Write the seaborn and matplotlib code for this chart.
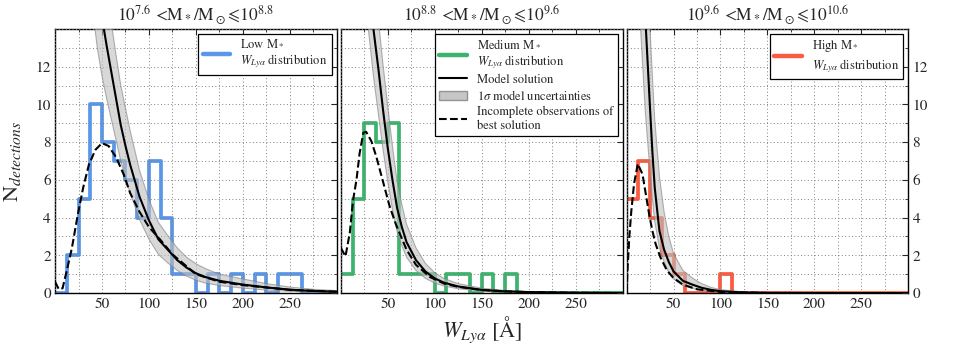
import numpy as np
import pandas as pd
import matplotlib.pyplot as plt
import seaborn as sns
from matplotlib.lines import Line2D
from matplotlib.patches import Patch
from matplotlib.ticker import MultipleLocator

sns.set_style("white")
plt.rcParams['font.family'] = 'serif'
plt.rcParams['font.serif'] = ['STIXGeneral', 'Liberation Serif', 'DejaVu Serif']
plt.rcParams['mathtext.fontset'] = 'stix'

# histogram bins (12.5 A wide, 0-300 A)
bin_edges = list(np.arange(0, 300.1, 12.5))
bin_centres = [e + 6.25 for e in bin_edges[:-1]]

# detections per bin
low_counts = [0, 2, 5, 10, 8, 7, 6, 4, 7, 4, 1, 1, 0, 1, 0, 1, 0, 1, 0, 1, 1, 0, 0, 0]
med_counts = [1, 5, 9, 8, 9, 1, 1, 1, 0, 1, 1, 0, 1, 0, 1, 0, 0, 0, 0, 0, 0, 0, 0, 0]
high_counts = [5, 7, 4, 2, 1, 0, 0, 0, 1, 0, 0, 0, 0, 0, 0, 0, 0, 0, 0, 0, 0, 0, 0, 0]

# model solution and 1 sigma band
low_w = [40, 45, 50, 55, 60, 65, 70, 75, 80, 90, 100, 110, 120, 130, 140, 150, 160, 175, 200, 225, 250, 275, 300]
low_model = [18.5, 16.5, 14.6, 13.1, 11.7, 10.3, 8.9, 7.8, 6.8, 5.1, 3.85, 2.85, 2.3, 1.75, 1.35, 1.05,
             0.85, 0.65, 0.45, 0.3, 0.18, 0.11, 0.07]
low_upper = [23, 20.5, 17.8, 16, 14.3, 12.6, 11, 9.8, 8.6, 6.5, 4.95, 3.75, 3.05, 2.4, 1.9, 1.55,
             1.3, 1.0, 0.75, 0.5, 0.32, 0.2, 0.13]
low_lower = [15, 13, 11.5, 10.3, 9.2, 8.1, 7.0, 6.1, 5.3, 3.9, 2.85, 2.05, 1.6, 1.2, 0.9, 0.68,
             0.53, 0.4, 0.26, 0.16, 0.09, 0.05, 0.03]
low_inc_w = [0, 4, 8, 13, 18, 24, 30, 36, 43, 50, 57, 65, 73, 80, 90, 100, 112.5, 125, 150, 175, 200, 250, 300]
low_inc = [0.6, 0.2, 0.25, 1.3, 2.4, 4.1, 5.6, 6.8, 7.6, 7.95, 7.8, 7.2, 6.3, 5.3, 4.3, 3.5, 2.8, 2.05,
           1.0, 0.6, 0.42, 0.17, 0.07]

med_w = [25, 30, 35, 40, 45, 50, 55, 60, 65, 70, 80, 90, 100, 110, 125, 150, 175, 200, 250, 300]
med_model = [19, 16.3, 13.9, 11.9, 9.7, 7.7, 6.0, 4.5, 3.5, 2.7, 1.75, 1.15, 0.78, 0.55, 0.35, 0.17,
             0.09, 0.05, 0.015, 0.005]
med_upper = [22.4, 19.2, 16.7, 14.5, 12.1, 9.9, 7.8, 5.9, 4.7, 3.65, 2.4, 1.58, 1.08, 0.77, 0.5, 0.26,
             0.14, 0.085, 0.03, 0.01]
med_lower = [16.2, 13.7, 11.4, 9.5, 7.6, 5.9, 4.45, 3.25, 2.5, 1.9, 1.2, 0.78, 0.53, 0.37, 0.23, 0.105,
             0.054, 0.028, 0.008, 0.002]
med_inc_w = [0, 5, 9.6, 13, 16.7, 20, 24, 27, 32.6, 38, 45, 52, 59, 70, 80, 95, 110, 125, 150, 175, 200, 250, 300]
med_inc = [2.4, 1.95, 3.2, 4.9, 6.0, 7.4, 8.5, 8.55, 8.05, 7.2, 5.9, 4.6, 3.6, 2.3, 1.5, 0.85, 0.5, 0.33,
           0.16, 0.09, 0.05, 0.015, 0.005]

high_w = [10, 15, 20, 22.5, 25, 27.5, 30, 35, 40, 45, 50, 60, 70, 80, 90, 100, 125, 150, 200, 300]
high_model = [32, 22, 14.6, 12.2, 9.8, 7.5, 5.6, 3.3, 2.3, 1.65, 1.15, 0.65, 0.45, 0.28, 0.17, 0.1,
              0.03, 0.01, 0.001, 0]
high_upper = [42, 29, 19.5, 16.5, 14, 11.5, 9.2, 6.2, 4.3, 3.0, 2.1, 1.2, 0.8, 0.5, 0.3, 0.18,
              0.06, 0.02, 0.003, 0]
high_lower = [20, 14, 9.6, 8, 6.5, 5.0, 3.8, 2.4, 1.65, 1.1, 0.75, 0.4, 0.25, 0.15, 0.09, 0.05,
              0.015, 0.004, 0, 0]
high_inc_w = [0, 1, 3, 5, 8, 12, 17, 20, 24, 27.5, 31, 36, 43, 50, 60, 75, 100, 150, 300]
high_inc = [0, 1.2, 3.0, 4.3, 5.8, 6.85, 6.3, 5.4, 4.2, 3.3, 2.6, 1.9, 1.2, 0.8, 0.45, 0.2, 0.06, 0.005, 0]

titles = [r'$10^{7.6}$ <M$_*$/M$_\odot\!\leqslant\!10^{8.8}$',
          r'$10^{8.8}$ <M$_*$/M$_\odot\!\leqslant\!10^{9.6}$',
          r'$10^{9.6}$ <M$_*$/M$_\odot\!\leqslant\!10^{10.6}$']
hist_labels = ['Low M$_*$\n$W_{Ly\\alpha}$ distribution',
               'Medium M$_*$\n$W_{Ly\\alpha}$ distribution',
               'High M$_*$\n$W_{Ly\\alpha}$ distribution']
colours = ['#5b97e8', '#3cb46e', '#fb5b3f']

panels = [
    (low_counts, low_w, low_model, low_upper, low_lower, low_inc_w, low_inc),
    (med_counts, med_w, med_model, med_upper, med_lower, med_inc_w, med_inc),
    (high_counts, high_w, high_model, high_upper, high_lower, high_inc_w, high_inc),
]

fig, axes = plt.subplots(1, 3, figsize=(9.69, 3.46), dpi=100, sharey=True)
fig.subplots_adjust(left=0.0568, right=0.9374, bottom=0.153, top=0.916, wspace=0.014)

for i, ax in enumerate(axes):
    counts, w, model, upper, lower, inc_w, inc = panels[i]
    hist_df = pd.DataFrame({'W': bin_centres, 'n': counts})
    sns.histplot(data=hist_df, x='W', weights='n', bins=bin_edges, element='step', fill=False,
                 color=colours[i], lw=2.7, ax=ax, zorder=1.5)
    ax.fill_between(w, lower, upper, facecolor='0.75', edgecolor='0.5', lw=0.8, alpha=0.6, zorder=2.6)
    sns.lineplot(x=w, y=model, color='k', lw=1.5, ax=ax, zorder=4)
    sns.lineplot(x=inc_w, y=inc, color='k', lw=1.5, ls='--', ax=ax, zorder=4)

    ax.set_xlim(0, 300)
    ax.set_ylim(0, 14)
    ax.set_xticks([50, 100, 150, 200, 250])
    ax.xaxis.set_minor_locator(MultipleLocator(25))
    ax.set_yticks([0, 2, 4, 6, 8, 10, 12])
    ax.yaxis.set_minor_locator(MultipleLocator(1))
    ax.set_axisbelow(False)
    ax.grid(which='both', ls=(0, (1, 2.5)), color='0.5', lw=0.7)
    ax.tick_params(which='both', direction='in', top=True, right=True, labelsize=11, pad=3)
    ax.tick_params(which='major', length=4)
    ax.tick_params(which='minor', length=2)
    for s in ax.spines.values():
        s.set_color('k')
        s.set_linewidth(1.0)
    ax.set_ylabel('')
    ax.set_xlabel('')
    ax.set_title(titles[i], fontsize=12.5, pad=6)

    hist_handle = Line2D([], [], color=colours[i], lw=3.2)
    if i == 1:
        handles = [hist_handle,
                   Line2D([], [], color='k', lw=1.5),
                   Patch(facecolor='0.72', edgecolor='0.5', alpha=0.8),
                   Line2D([], [], color='k', lw=1.5, ls='--')]
        labels = [hist_labels[i], 'Model solution', r'1$\sigma$ model uncertainties',
                  'Incomplete observations of\nbest solution']
    else:
        handles = [hist_handle]
        labels = [hist_labels[i]]
    leg = ax.legend(handles, labels, loc='upper right', fontsize=9, fancybox=False,
                    framealpha=1, edgecolor='k', handlelength=2.2, borderaxespad=0.4,
                    labelspacing=0.25, borderpad=0.35)
    leg.get_frame().set_linewidth(0.9)

axes[0].set_ylabel(r'N$_{detections}$', fontsize=16)
axes[0].yaxis.set_label_coords(-0.115, 0.5)
axes[1].tick_params(labelleft=False)
axes[2].tick_params(labelleft=False, labelright=True)
axes[1].set_xlabel(r'$W_{Ly\alpha}$ [Å]', fontsize=16, labelpad=3)
axes[2].yaxis.set_label_position('right')
axes[2].set_ylabel(r'$p$(W$_{Ly\alpha}$|A,W$_0$)$dW_{Ly\alpha}\times$N$_{galaxies}$',
                   fontsize=15, rotation=270, labelpad=20)

fig.savefig('out.png', dpi=100)
